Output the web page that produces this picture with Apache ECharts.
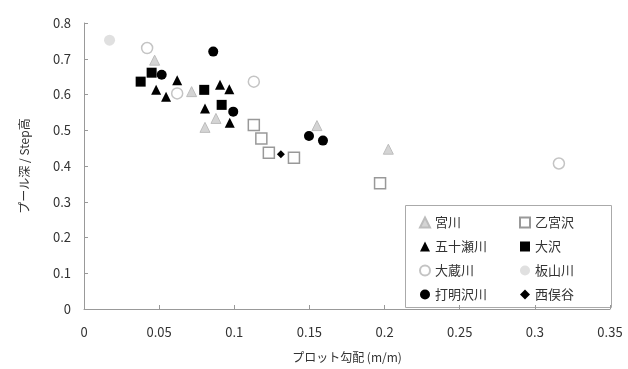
<!DOCTYPE html>
<html>
<head>
<meta charset="utf-8">
<script src="https://cdn.jsdelivr.net/npm/echarts@6/dist/echarts.min.js"></script>
<style>
  html, body { margin: 0; padding: 0; background: #fff; }
  #chart { width: 628px; height: 369px; }
</style>
</head>
<body>
<div id="chart"></div>
<script>
// Pool depth / step height against plot slope, one series per stream
const miyagawa = [[0.047, 0.696], [0.0716, 0.608], [0.0878, 0.533], [0.0805, 0.508], [0.155, 0.513], [0.2025, 0.447]];
const otomiyasawa = [[0.113, 0.515], [0.118, 0.477], [0.123, 0.437], [0.1397, 0.423], [0.197, 0.352]];
const isogawa = [[0.062, 0.64], [0.048, 0.613], [0.0546, 0.594], [0.0905, 0.627], [0.0967, 0.615], [0.0805, 0.561], [0.097, 0.521]];
const osawa = [[0.0377, 0.636], [0.045, 0.661], [0.08, 0.613], [0.0916, 0.571]];
const okuragawa = [[0.042, 0.73], [0.062, 0.603], [0.113, 0.636], [0.316, 0.407]];
const itayamagawa = [[0.017, 0.752]];
const uchiakezawagawa = [[0.086, 0.72], [0.0517, 0.655], [0.0993, 0.552], [0.1497, 0.484], [0.159, 0.471]];
const nishimatadani = [[0.131, 0.433]];

const xTicks = { min: 0, max: 0.35, interval: 0.05 };
const yTicks = { min: 0, max: 0.8, interval: 0.1 };

const font = '"Noto Sans CJK JP", "Liberation Sans", sans-serif';

function sc(name, data, symbol, size, color, border, borderWidth) {
  return {
    name: name,
    type: 'scatter',
    data: data,
    symbol: symbol,
    symbolSize: size,
    itemStyle: { color: color, borderColor: border, borderWidth: borderWidth || 0, opacity: 1 },
    emphasis: { disabled: true }
  };
}

const legendText = { fontFamily: font, fontSize: 13, color: '#333' };

const option = {
  animation: false,
  backgroundColor: '#fff',
  grid: { left: 84, right: 18, top: 23, bottom: 60 },
  xAxis: {
    type: 'value',
    min: xTicks.min, max: xTicks.max, interval: xTicks.interval,
    name: 'プロット勾配 (m/m)',
    nameLocation: 'middle',
    nameGap: 42,
    nameTextStyle: { fontFamily: font, fontSize: 12, color: '#333' },
    axisLine: { show: true, lineStyle: { color: '#999', width: 1 } },
    axisTick: { show: true, inside: true, length: 4, lineStyle: { color: '#999' } },
    axisLabel: { fontFamily: font, fontSize: 13, color: '#333', margin: 17 },
    splitLine: { show: false }
  },
  yAxis: {
    type: 'value',
    min: yTicks.min, max: yTicks.max, interval: yTicks.interval,
    name: 'プール深 / Step高',
    nameLocation: 'middle',
    nameGap: 54,
    nameTextStyle: { fontFamily: font, fontSize: 12, color: '#333' },
    axisLine: { show: true, lineStyle: { color: '#999', width: 1 } },
    axisTick: { show: true, inside: true, length: 4, lineStyle: { color: '#999' } },
    axisLabel: { fontFamily: font, fontSize: 13, color: '#333', margin: 13 },
    splitLine: { show: false }
  },
  graphic: [{
    type: 'rect',
    shape: { x: 405.5, y: 205.5, width: 206, height: 102 },
    style: { fill: '#fff', stroke: '#aaa', lineWidth: 1 },
    z: 0
  }],
  legend: [
    {
      orient: 'vertical', left: 414, top: 211, itemGap: 11,
      itemWidth: 10, itemHeight: 10, textStyle: legendText,
      data: ['宮川', '五十瀬川', '大蔵川', '打明沢川'], z: 5
    },
    {
      orient: 'vertical', left: 514, top: 211, itemGap: 11,
      itemWidth: 10, itemHeight: 10, textStyle: legendText,
      data: ['乙宮沢', '大沢', '板山川', '西俣谷'], z: 5
    }
  ],
  series: [
    sc('宮川', miyagawa, 'triangle', 10, '#d4d4d4', '#bdbdbd', 1),
    sc('乙宮沢', otomiyasawa, 'rect', 11, '#fff', '#999', 1.5),
    sc('五十瀬川', isogawa, 'triangle', 10, '#000', '#000', 0),
    sc('大沢', osawa, 'rect', 10, '#000', '#000', 0),
    sc('大蔵川', okuragawa, 'circle', 11, '#fff', '#c4c4c4', 1.5),
    sc('板山川', itayamagawa, 'circle', 11, '#e0e0e0', '#e0e0e0', 0),
    sc('打明沢川', uchiakezawagawa, 'circle', 10, '#000', '#000', 0),
    sc('西俣谷', nishimatadani, 'diamond', 8, '#000', '#000', 0)
  ]
};

const chart = echarts.init(document.getElementById('chart'), null, { renderer: 'canvas' });
chart.setOption(option);
</script>
</body>
</html>
